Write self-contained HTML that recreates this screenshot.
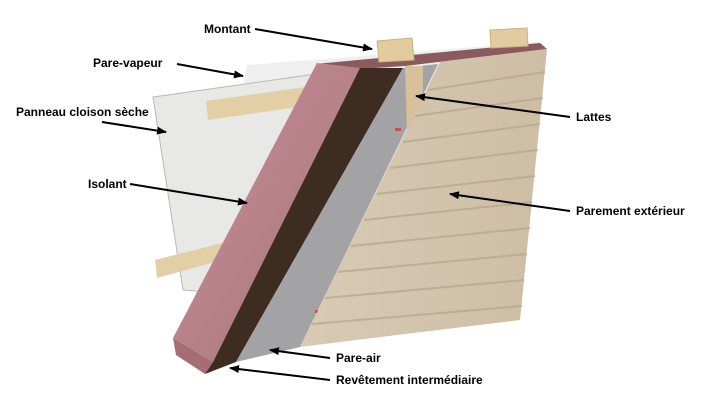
<!DOCTYPE html>
<html><head><meta charset="utf-8"><style>
html,body{margin:0;padding:0;background:#fff;}
svg{display:block;}
text{font-family:"Liberation Sans",Arial,sans-serif;font-weight:bold;font-size:12px;fill:#000;}
</style></head><body>
<svg width="708" height="400" viewBox="0 0 708 400" xmlns="http://www.w3.org/2000/svg">
<defs>
<marker id="a" markerWidth="10" markerHeight="8" refX="9" refY="4" orient="auto" markerUnits="userSpaceOnUse">
<path d="M0,0 L10,4 L0,8 Z" fill="#000"/></marker>
<linearGradient id="pk" x1="0" y1="0" x2="1" y2="1">
<stop offset="0" stop-color="#c98f98"/><stop offset="0.5" stop-color="#b8828a"/><stop offset="1" stop-color="#a87078"/></linearGradient>
<linearGradient id="sd" x1="0" y1="0" x2="1" y2="0">
<stop offset="0" stop-color="#d8cab4"/><stop offset="1" stop-color="#cdbda4"/></linearGradient>
</defs>
<polygon points="247,65 540,42 520,320 200,300" fill="#efefef"/>
<polygon points="153,97 330,72 320,300 183,290" fill="#e8e8e6" stroke="#b8b8b8" stroke-width="1"/>
<polygon points="206,101 320,85 320,104 208,120" fill="#e3cfa6"/>
<polygon points="155,260 222,243 222,260 157,278" fill="#e3cfa6"/>
<polygon points="315,64 540,43 547,49 405,66 360,69" fill="#8a5a5e"/>
<polygon points="317,63 360,68 213,362 173,338" fill="url(#pk)"/>
<polygon points="173,338 213,362 205,374 176,355" fill="#a46e74"/>
<polygon points="360,68 403,68 236,362 205,374 213,362" fill="#3d2c1f"/>
<polygon points="403,68 438,64 300,347 236,362" fill="#a3a3a5"/>
<g fill="#d33" opacity="0.8">
<rect x="395" y="128" width="6" height="3"/><rect x="372" y="200" width="6" height="3"/>
<rect x="344" y="258" width="6" height="3"/><rect x="315" y="310" width="6" height="3"/></g>
<polygon points="440,62 547,49 520,320 300,347" fill="url(#sd)"/>
<g stroke="#b9a88f" stroke-width="2" opacity="0.8">
<line x1="428" y1="90" x2="545" y2="72"/>
<line x1="415" y1="116" x2="543" y2="98"/>
<line x1="403" y1="142" x2="540" y2="124"/>
<line x1="390" y1="168" x2="538" y2="150"/>
<line x1="377" y1="194" x2="535" y2="176"/>
<line x1="364" y1="220" x2="532" y2="202"/>
<line x1="351" y1="246" x2="530" y2="228"/>
<line x1="338" y1="272" x2="527" y2="254"/>
<line x1="325" y1="298" x2="524" y2="280"/>
<line x1="312" y1="324" x2="522" y2="306"/>
</g>
<polygon points="405,66 423,66 423,98 407,132" fill="#d6c19a"/>
<polygon points="377,41 412,38 414,60 379,62" fill="#e2cc9f" stroke="#c9b184" stroke-width="1"/>
<polygon points="490,30 527,28 528,46 491,48" fill="#e2cc9f" stroke="#c9b184" stroke-width="1"/>
<text x="204" y="33">Montant</text>
<text x="93" y="67">Pare-vapeur</text>
<text x="16" y="116">Panneau cloison sèche</text>
<text x="88" y="188">Isolant</text>
<text x="576" y="121">Lattes</text>
<text x="576" y="215">Parement extérieur</text>
<text x="336" y="362">Pare-air</text>
<text x="336" y="384">Revêtement intermédiaire</text>
<g stroke="#000" stroke-width="2" fill="none" marker-end="url(#a)">
<line x1="255" y1="29" x2="372" y2="49"/>
<line x1="177" y1="64" x2="243" y2="76"/>
<line x1="102" y1="122" x2="166" y2="132"/>
<line x1="130" y1="184" x2="247" y2="203"/>
<line x1="570" y1="117" x2="416" y2="96"/>
<line x1="570" y1="211" x2="450" y2="194"/>
<line x1="330" y1="358" x2="270" y2="350"/>
<line x1="330" y1="380" x2="230" y2="368"/>
</g>
</svg>
</body></html>
